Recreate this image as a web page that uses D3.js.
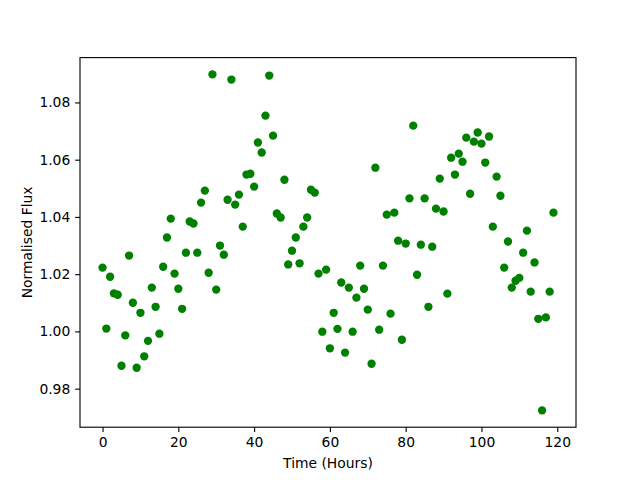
<!DOCTYPE html>
<html>
<head>
<meta charset="utf-8">
<script src="https://cdn.jsdelivr.net/npm/d3@7"></script>
<style>
  html, body { margin: 0; padding: 0; background: #fff; }
  text { font-family: "DejaVu Sans", sans-serif; }
</style>
</head>
<body>
<script>
// hourly flux readings
const hours = d3.range(0, 120);
const flux = [
  1.0223, 1.0010, 1.0191, 1.0133, 1.0128, 0.9880, 0.9986, 1.0265, 1.0100, 0.9873,
  1.0065, 0.9913, 0.9967, 1.0153, 1.0086, 0.9992, 1.0226, 1.0328, 1.0394, 1.0202,
  1.0149, 1.0079, 1.0275, 1.0384, 1.0377, 1.0275, 1.0450, 1.0492, 1.0205, 1.0898,
  1.0146, 1.0300, 1.0268, 1.0460, 1.0880, 1.0443, 1.0478, 1.0366, 1.0548, 1.0551,
  1.0506, 1.0660, 1.0625, 1.0754, 1.0894, 1.0684, 1.0412, 1.0398, 1.0530, 1.0234,
  1.0282, 1.0328, 1.0238, 1.0366, 1.0398, 1.0495, 1.0485, 1.0202, 0.9999, 1.0216,
  0.9941, 1.0065, 1.0009, 1.0171, 0.9926, 1.0153, 0.9999, 1.0118, 1.0230, 1.0149,
  1.0076, 0.9887, 1.0572, 1.0006, 1.0230, 1.0408, 1.0062, 1.0415, 1.0317, 0.9971,
  1.0307, 1.0465, 1.0719, 1.0198, 1.0303, 1.0465, 1.0086, 1.0296, 1.0429, 1.0534,
  1.0419, 1.0132, 1.0607, 1.0548, 1.0621, 1.0593, 1.0677, 1.0481, 1.0663, 1.0695,
  1.0656, 1.0590, 1.0681, 1.0366, 1.0541, 1.0474, 1.0223, 1.0314, 1.0153, 1.0177,
  1.0187, 1.0275, 1.0352, 1.0139, 1.0241, 1.0044, 0.9724, 1.0049, 1.0139, 1.0415
];
const xTicks = [0, 20, 40, 60, 80, 100, 120];
const yTicks = [0.98, 1.00, 1.02, 1.04, 1.06, 1.08];

const points = hours.map((h, i) => ({ h, f: flux[i] }));

const W = 640, H = 480;
const margin = { top: 57.6, right: 64, bottom: 52.8, left: 80 };
const width = W - margin.left - margin.right;
const height = H - margin.top - margin.bottom;
const pt = 100 / 72;

// matplotlib-style 5% padding around the data
function padded(ext) {
  const d = (ext[1] - ext[0]) * 0.05;
  return [ext[0] - d, ext[1] + d];
}

const svg = d3.select('body').append('svg')
  .attr('width', W)
  .attr('height', H);

const g = svg.append('g')
  .attr('transform', `translate(${margin.left},${margin.top})`);

const x = d3.scaleLinear()
  .domain(padded(d3.extent(points, d => d.h)))
  .range([0, width]);

const y = d3.scaleLinear()
  .domain(padded(d3.extent(points, d => d.f)))
  .range([height, 0]);

g.selectAll('circle')
  .data(points)
  .join('circle')
  .attr('cx', d => x(d.h))
  .attr('cy', d => y(d.f))
  .attr('r', 3 * pt)
  .attr('fill', '#008000');

const xAxis = g.append('g')
  .attr('transform', `translate(0,${height})`)
  .call(d3.axisBottom(x).tickValues(xTicks).tickFormat(d3.format('d'))
    .tickSize(3.5 * pt).tickPadding(3.5 * pt));

const yAxis = g.append('g')
  .call(d3.axisLeft(y).tickValues(yTicks).tickFormat(d3.format('.2f'))
    .tickSize(3.5 * pt).tickPadding(3.5 * pt));

for (const ax of [xAxis, yAxis]) {
  ax.select('.domain').remove();
  ax.selectAll('line').attr('stroke', '#000').attr('stroke-width', 0.8 * pt);
  ax.selectAll('text')
    .attr('fill', '#000')
    .style('font-family', '"DejaVu Sans", sans-serif')
    .style('font-size', (10 * pt) + 'px');
}

// frame
g.append('rect')
  .attr('width', width)
  .attr('height', height)
  .attr('fill', 'none')
  .attr('stroke', '#000')
  .attr('stroke-width', 0.8 * pt);

g.append('text')
  .attr('x', width / 2)
  .attr('y', height + 40.5)
  .attr('text-anchor', 'middle')
  .style('font-size', (10 * pt) + 'px')
  .text('Time (Hours)');

g.append('text')
  .attr('transform', `translate(${-48.5},${height / 2}) rotate(-90)`)
  .attr('text-anchor', 'middle')
  .style('font-size', (10 * pt) + 'px')
  .text('Normalised Flux');
</script>
</body>
</html>
